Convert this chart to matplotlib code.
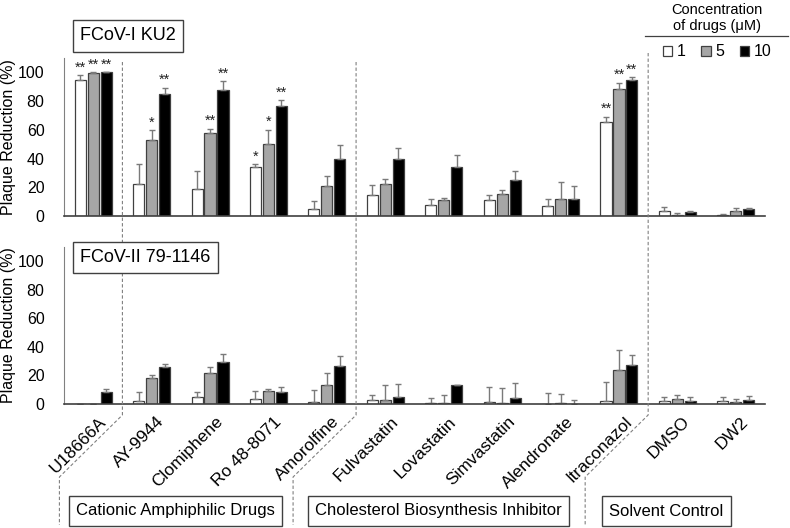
import numpy as np
import matplotlib
matplotlib.use("Agg")
import matplotlib.pyplot as plt
import matplotlib.transforms as mtransforms
from matplotlib.lines import Line2D

plt.rcParams['font.family'] = ['Liberation Sans', 'DejaVu Sans']

drugs = ['U18666A', 'AY-9944', 'Clomiphene', 'Ro 48-8071', 'Amorolfine',
         'Fulvastatin', 'Lovastatin', 'Simvastatin', 'Alendronate',
         'Itraconazol', 'DMSO', 'DW2']
doses = ['1', '5', '10']

# FCoV-I KU2 (mean, upper error) per dose
ku2_1 = [95, 22, 19, 34, 4.6, 14.4, 7.4, 10.9, 6.9, 65.5, 3.5, 0.7]
ku2_5 = [99.5, 53, 57.5, 49.8, 20.6, 22.4, 10.9, 15.5, 11.6, 88.4, 0.7, 3.7]
ku2_10 = [100, 84.7, 88, 76.9, 40, 39.6, 34, 25.2, 11.8, 94.9, 2.5, 4.9]
ku2_1_err = [3, 14, 12, 2, 5.6, 7, 4.2, 3.7, 4.7, 3.7, 2.5, 0.9]
ku2_5_err = [0.5, 7, 3.3, 10.4, 7.4, 3.5, 1.8, 2.3, 12.2, 4.4, 1.6, 1.6]
ku2_10_err = [0, 4.7, 5.7, 4, 9.5, 8, 8.8, 5.8, 9.2, 2, 0.7, 0.5]
ku2_sig_1 = ['**', '', '', '*', '', '', '', '', '', '**', '', '']
ku2_sig_5 = ['**', '*', '**', '*', '', '', '', '', '', '**', '', '']
ku2_sig_10 = ['**', '**', '**', '**', '', '', '', '', '', '**', '', '']

# FCoV-II 79-1146
ii_1 = [0, 2.1, 4.9, 3.3, 1.2, 2.6, 0.7, 1.6, 0.2, 2.1, 1.9, 1.9]
ii_5 = [0, 18.3, 21.5, 8.9, 13.3, 3, 0.5, 0.5, 0.5, 23.9, 3.3, 1.2]
ii_10 = [8.7, 25.8, 29.3, 8.4, 26.5, 4.7, 13.1, 4, 0.2, 27.4, 1.9, 3]
ii_1_err = [0, 6, 3.3, 5.6, 8.6, 4, 3.5, 10, 7.3, 13.6, 3, 2.8]
ii_5_err = [0, 1.9, 4.7, 1.9, 8.2, 10, 6, 10.5, 6.8, 13.8, 3.3, 2.5]
ii_10_err = [1.6, 2.1, 5.6, 3.3, 7, 9.6, 0.5, 11, 2.6, 6.8, 3.3, 2.9]

groups = ['Cationic Amphiphilic Drugs', 'Cholesterol Biosynthesis Inhibitor', 'Solvent Control']
group_centers_px = [175.5, 438.5, 666.5]
boundaries = [0.5, 4.5, 9.5]

W, H = 790, 528
fig = plt.figure(figsize=(W / 100, H / 100), dpi=100)
ax1 = fig.add_axes([64 / W, 1 - 216 / H, 701 / W, 158 / H])
ax2 = fig.add_axes([64 / W, 1 - 404 / H, 701 / W, 157 / H])

colors = ['white', '#a6a6a6', 'black']
edge = '#404040'
ecol = '#7a7a7a'
x = np.arange(len(drugs))
pitch = 0.222
width = 0.19


def draw(ax, vals, errs, sigs=None):
    handles = []
    for k in range(3):
        pos = x + (k - 1) * pitch
        v = np.array(vals[k])
        e = np.array(errs[k])
        b = ax.bar(pos, v, width, color=colors[k], edgecolor=edge, linewidth=0.9,
                   yerr=[np.zeros_like(e), e], ecolor=ecol, capsize=2.5,
                   error_kw=dict(elinewidth=1, capthick=1), zorder=2)
        handles.append(b)
        if sigs is not None:
            for p, top, s in zip(pos, v + e, sigs[k]):
                if s:
                    ax.text(p, top + 0.3, s, ha='center', va='bottom', fontsize=10.5,
                            color='#222222')
    ax.set_xlim(-0.5, 11.5)
    ax.set_ylim(0, 110)
    ax.set_yticks([0, 20, 40, 60, 80, 100])
    ax.tick_params(axis='y', length=0, pad=14, labelsize=11.5)
    ax.tick_params(axis='x', length=0)
    for s in ['top', 'right']:
        ax.spines[s].set_visible(False)
    ax.spines['left'].set_color('#808080')
    ax.spines['bottom'].set_color('#404040')
    ax.spines['bottom'].set_linewidth(1.2)
    ax.set_ylabel('Plaque Reduction (%)', fontsize=11.5)
    ax.yaxis.set_label_coords(-0.068, 0.5)
    return handles


h = draw(ax1, [ku2_1, ku2_5, ku2_10], [ku2_1_err, ku2_5_err, ku2_10_err],
         [ku2_sig_1, ku2_sig_5, ku2_sig_10])
ax1.set_xticks(x)
ax1.set_xticklabels([])
draw(ax2, [ii_1, ii_5, ii_10], [ii_1_err, ii_5_err, ii_10_err])
ax2.set_xticks(x)
ax2.set_xticklabels(drugs, rotation=45, ha='right', va='top', rotation_mode='anchor',
                    fontsize=12.5)
off = mtransforms.ScaledTranslation(5 / 100, -5 / 100, fig.dpi_scale_trans)
for lab in ax2.get_xticklabels():
    lab.set_transform(lab.get_transform() + off)

box = dict(boxstyle='square,pad=0.4', facecolor='white', edgecolor='#404040', linewidth=1)
fig.text(80 / W, 1 - 36 / H, 'FCoV-I KU2', fontsize=13, ha='left', va='center', bbox=box)
fig.text(80 / W, 1 - 257.5 / H, 'FCoV-II 79-1146', fontsize=13, ha='left', va='center', bbox=box)

# separators between drug groups
inv = fig.transFigure.inverted()
for b, ytop in zip(boundaries, [62, 62, 53]):
    px = ax2.transData.transform((b, 0))[0]
    xs = [px, px, px - 63, px - 63]
    ys = [H - ytop, H - 415, H - 477, H - 525]
    pts = inv.transform(np.column_stack([xs, ys]))
    fig.add_artist(Line2D(pts[:, 0], pts[:, 1], color='#808080', lw=0.8,
                          linestyle=(0, (3, 2))))

for g, cx in zip(groups, group_centers_px):
    fig.text(cx / W, 1 - 511 / H, g, fontsize=12, ha='center', va='center',
             bbox=dict(boxstyle='square,pad=0.45', facecolor='white',
                       edgecolor='#404040', linewidth=1))

# legend
fig.text(717 / W, 1 - 10 / H, 'Concentration', fontsize=10.5, ha='center', va='center')
fig.text(717 / W, 1 - 26 / H, 'of drugs (\u03bcM)', fontsize=10.5, ha='center', va='center')
fig.add_artist(Line2D([645 / W, 788 / W], [1 - 36 / H, 1 - 36 / H], color='#404040', lw=0.9))
fig.legend(h, doses, ncol=3, loc='center', bbox_to_anchor=(717 / W, 1 - 52 / H),
           frameon=False, fontsize=11.5, handlelength=0.6, handleheight=0.6,
           handletextpad=0.25, columnspacing=1.0)

fig.savefig('out.png', dpi=100)
